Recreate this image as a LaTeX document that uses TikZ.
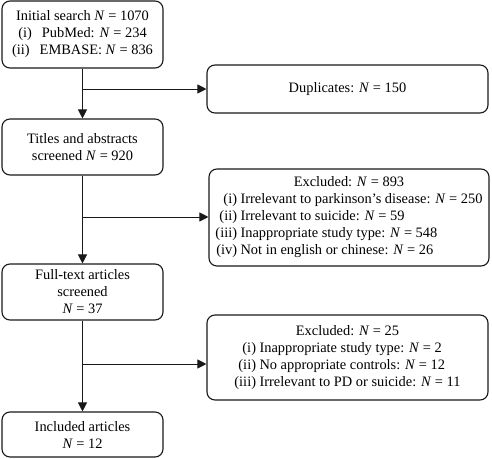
\documentclass[tikz,border=0pt]{standalone}
\usepackage{fontspec}
\setmainfont{Liberation Serif}
\usetikzlibrary{arrows.meta}
\newcommand{\nN}{\textit{N}}
\begin{document}
\begin{tikzpicture}[x=1pt,y=-1pt,
  box/.style={draw=black!90, line width=1.1pt, rounded corners=8pt, inner sep=0pt, align=center,
    font=\fontsize{14.4}{17}\selectfont},
  conn/.style={draw=black!90, line width=1pt, -{Triangle[length=9pt,width=9pt]}},
  trunk/.style={draw=black!90, line width=1pt}]
\useasboundingbox (0,0) rectangle (492,458);

\node[box, minimum width=161pt, minimum height=67pt] (b1) at (82.5,34.5)
  {Initial search \nN{} = 1070\\(i)\hspace{0.7em}PubMed: \nN{} = 234\\(ii)\hspace{0.7em}EMBASE: \nN{} = 836};
\node[box, minimum width=281pt, minimum height=48pt] (dup) at (347.5,89)
  {Duplicates: \nN{} = 150};
\node[box, minimum width=161pt, minimum height=56pt] (b2) at (82.5,147)
  {Titles and abstracts\\screened \nN{} = 920};
\node[box, minimum width=280pt, minimum height=97pt] (ex1) at (349,217.5)
  {\begin{tabular}{@{}r@{\hspace{3.5pt}}l@{}}
   \multicolumn{2}{c}{Excluded: \nN{} = 893}\\
   (i) & Irrelevant to parkinson's disease: \nN{} = 250\\
   (ii) & Irrelevant to suicide: \nN{} = 59\\
   (iii) & Inappropriate study type: \nN{} = 548\\
   (iv) & Not in english or chinese: \nN{} = 26
   \end{tabular}};
\node[box, minimum width=161pt, minimum height=56pt] (b3) at (82.5,292)
  {Full-text articles\\screened\\\nN{} = 37};
\node[box, minimum width=281pt, minimum height=85pt] (ex2) at (347.5,357.5)
  {\raisebox{-3.5pt}{\begin{tabular}{@{}r@{\hspace{3.5pt}}l@{}}
   \multicolumn{2}{c}{Excluded: \nN{} = 25}\\
   (i) & Inappropriate study type: \nN{} = 2\\
   (ii) & No appropriate controls: \nN{} = 12\\
   (iii) & Irrelevant to PD or suicide: \nN{} = 11
   \end{tabular}}};
\node[box, minimum width=161pt, minimum height=45pt] (b4) at (82.5,434.5)
  {Included articles\\\nN{} = 12};

\coordinate (j1) at (82.5,89);
\coordinate (j2) at (82.5,217);
\coordinate (j3) at (82.5,364);

\draw[conn] (b1.south) -- (b2.north);
\draw[conn] (j1) -- (j1 -| dup.west);
\draw[conn] (b2.south) -- (b3.north);
\draw[conn] (j2) -- (j2 -| ex1.west);
\draw[conn] (b3.south) -- (b4.north);
\draw[conn] (j3) -- (j3 -| ex2.west);
\end{tikzpicture}
\end{document}
